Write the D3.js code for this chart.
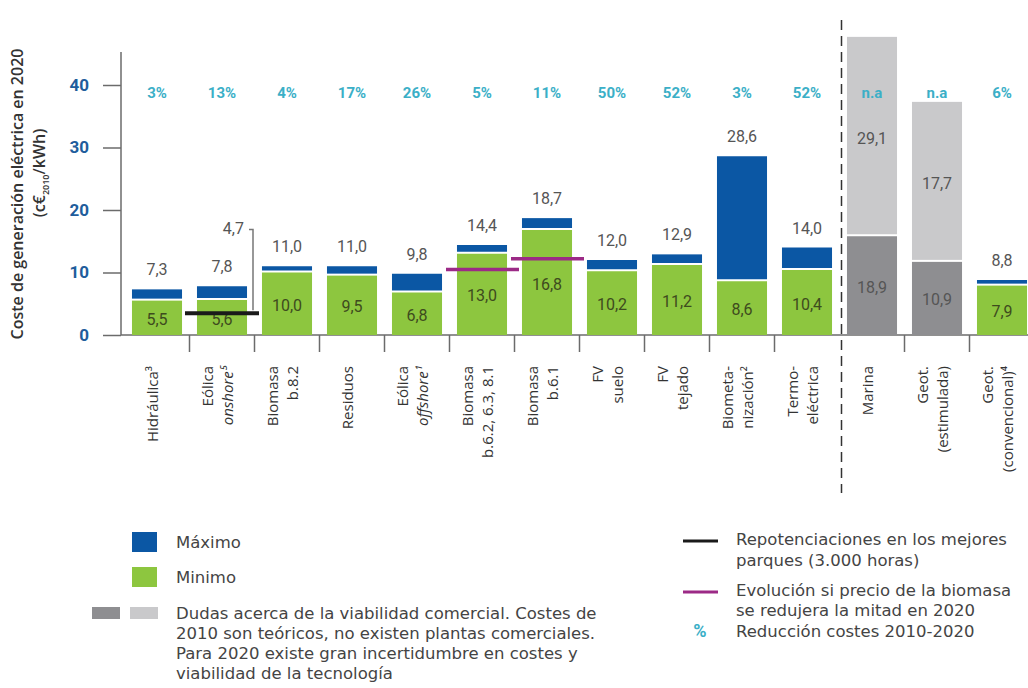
<!DOCTYPE html>
<html>
<head>
<meta charset="utf-8">
<script src="https://cdn.jsdelivr.net/npm/d3@7"></script>
<style>
  body { margin: 0; background: #fff; }
  text { font-family: Roboto, "DejaVu Sans", sans-serif; }
  .xlab, .ytitle { font-family: "Open Sans", "Noto Sans", sans-serif; }
  .leg { font-family: "DejaVu Sans", sans-serif; }
</style>
</head>
<body>
<script>
var svgWidth = 1028;
var svgHeight = 688;

// categories, each as the lines of its rotated label
var labelLines = [
  ["Hidráulica³"],
  ["Eólica", "onshore⁵"],
  ["Biomasa", "b.8.2"],
  ["Residuos"],
  ["Eólica", "offshore¹"],
  ["Biomasa", "b.6.2, 6.3, 8.1"],
  ["Biomasa", "b.6.1"],
  ["FV", "suelo"],
  ["FV", "tejado"],
  ["Biometa-", "nización²"],
  ["Termo-", "eléctrica"],
  ["Marina"],
  ["Geot.", "(estimulada)"],
  ["Geot.", "(convencional)⁴"]
];
var italicLines = ["onshore⁵", "offshore¹"];

// 2020 cost, c€2010/kWh
var minVals = [5.5, 5.6, 10.0, 9.5, 6.8, 13.0, 16.8, 10.2, 11.2, 8.6, 10.4, null, null, 7.9];
var maxVals = [7.3, 7.8, 11.0, 11.0, 9.8, 14.4, 18.7, 12.0, 12.9, 28.6, 14.0, null, null, 8.8];
var reduction = ["3%", "13%", "4%", "17%", "26%", "5%", "11%", "50%", "52%", "3%", "52%", "n.a", "n.a", "6%"];

// uncertain technologies (grey bars), as drawn in the picture
var greyCats = [11, 12];
var greyLow = [15.8, 11.7];
var greyHigh = [47.7, 37.3];
var greyLowLabels = ["18,9", "10,9"];
var greyHighLabels = ["29,1", "17,7"];

// repowering (black) and biomass half price (magenta) lines
var repowerCat = 1, repowerVal = 3.5, repowerBracketTop = 16.9, repowerLabel = "4,7";
var biomassCats = [5, 6];
var biomassVals = [10.5, 12.2];

var yTicks = [0, 10, 20, 30, 40];

var blue = "#0b57a4", green = "#8dc63f", darkGrey = "#8e8e91", lightGrey = "#c9c9cb";
var teal = "#3bafc7", axisCol = "#6b6b6b", valCol = "#555";

var fmt = function(v) { return v.toFixed(1).replace(".", ","); };

var svg = d3.select("body")
  .append("svg")
  .attr("width", svgWidth)
  .attr("height", svgHeight);

var x = d3.scaleBand()
  .domain(d3.range(labelLines.length))
  .range([124.5, 1034.5])
  .paddingInner(0.23)
  .paddingOuter(0.115);

var y = d3.scaleLinear()
  .domain([0, 40])
  .range([335, 85]);

var step = x.step();
var bw = x.bandwidth();
var cx = i => x(i) + bw / 2;

// y axis
var leftAxis = d3.axisLeft(y).tickValues(yTicks).tickSize(18).tickPadding(14);
var yAxisG = svg.append("g")
  .attr("transform", "translate(121,0)")
  .call(leftAxis);
yAxisG.select(".domain").remove();
yAxisG.selectAll(".tick line").attr("stroke", axisCol).attr("stroke-width", 1.5);
yAxisG.selectAll(".tick text")
  .attr("fill", "#1f5d9c")
  .style("font-size", "17px")
  .style("font-weight", "bold");
svg.append("line")
  .attr("x1", 121).attr("x2", 121)
  .attr("y1", y(45.3)).attr("y2", y(0))
  .attr("stroke", axisCol).attr("stroke-width", 1.5);

// y title
svg.append("text")
  .attr("class", "ytitle")
  .attr("transform", "translate(23,194) rotate(-90)")
  .attr("text-anchor", "middle")
  .attr("fill", "#333")
  .style("font-size", "16px")
  .style("font-weight", 600)
  .text("Coste de generación eléctrica en 2020");
var yTitle2 = svg.append("text")
  .attr("class", "ytitle")
  .attr("transform", "translate(45,173) rotate(-90)")
  .attr("text-anchor", "middle")
  .attr("fill", "#333")
  .style("font-size", "16px")
  .style("font-weight", 600);
yTitle2.append("tspan").text("(c€");
yTitle2.append("tspan").attr("dy", 4).style("font-size", "9px").text("2010");
yTitle2.append("tspan").attr("dy", -4).text("/kWh)");

// bottom axis line and slot separators
svg.append("line")
  .attr("x1", 121).attr("x2", svgWidth)
  .attr("y1", y(0)).attr("y2", y(0))
  .attr("stroke", axisCol).attr("stroke-width", 1.5);

var sepIdx = d3.range(1, labelLines.length).filter(i => i !== 11);
svg.selectAll(".sep")
  .data(sepIdx)
  .join("line")
  .attr("x1", i => x(i) - (step - bw) / 2)
  .attr("x2", i => x(i) - (step - bw) / 2)
  .attr("y1", y(0)).attr("y2", y(0) + 17)
  .attr("stroke", axisCol).attr("stroke-width", 1.5);

// dashed divider before the uncertain technologies
var divX = x(11) - (step - bw) / 2 + 2;
svg.append("line")
  .attr("x1", divX).attr("x2", divX)
  .attr("y1", 20).attr("y2", 493)
  .attr("stroke", "#333").attr("stroke-width", 1.5)
  .attr("stroke-dasharray", "10,6");

// stacked bars: green up to the minimum, blue from minimum to maximum
var idx = d3.range(labelLines.length).filter(i => minVals[i] != null);

svg.selectAll(".minBar")
  .data(idx)
  .join("rect")
  .attr("x", i => x(i))
  .attr("width", bw)
  .attr("y", i => y(minVals[i]))
  .attr("height", i => y(0) - y(minVals[i]))
  .attr("fill", green);

svg.selectAll(".maxBar")
  .data(idx)
  .join("rect")
  .attr("x", i => x(i))
  .attr("width", bw)
  .attr("y", i => y(maxVals[i]))
  .attr("height", i => Math.max(1, y(minVals[i]) - y(maxVals[i]) - 2))
  .attr("fill", blue);

svg.selectAll(".minLab")
  .data(idx)
  .join("text")
  .attr("x", cx)
  .attr("y", i => (y(0) + y(minVals[i])) / 2 + 7)
  .attr("text-anchor", "middle")
  .attr("fill", "#3e4b1e")
  .style("font-size", "16px")
  .text(i => fmt(minVals[i]));

svg.selectAll(".maxLab")
  .data(idx)
  .join("text")
  .attr("x", cx)
  .attr("y", i => y(maxVals[i]) - 14)
  .attr("text-anchor", "middle")
  .attr("fill", valCol)
  .style("font-size", "16px")
  .text(i => fmt(maxVals[i]));

// grey bars
greyCats.forEach(function(c, k) {
  svg.append("rect")
    .attr("x", x(c)).attr("width", bw)
    .attr("y", y(greyLow[k])).attr("height", y(0) - y(greyLow[k]))
    .attr("fill", darkGrey);
  svg.append("rect")
    .attr("x", x(c)).attr("width", bw)
    .attr("y", y(greyHigh[k])).attr("height", y(greyLow[k]) - y(greyHigh[k]) - 2)
    .attr("fill", lightGrey);
  svg.append("text")
    .attr("x", cx(c)).attr("y", (y(0) + y(greyLow[k])) / 2 + 7)
    .attr("text-anchor", "middle").attr("fill", valCol)
    .style("font-size", "16px")
    .text(greyLowLabels[k]);
  svg.append("text")
    .attr("x", cx(c)).attr("y", (y(greyLow[k]) + y(greyHigh[k])) / 2 + 7)
    .attr("text-anchor", "middle").attr("fill", valCol)
    .style("font-size", "16px")
    .text(greyHighLabels[k]);
});

// cost reduction labels
svg.selectAll(".red")
  .data(reduction)
  .join("text")
  .attr("x", (d, i) => cx(i))
  .attr("y", 98)
  .attr("text-anchor", "middle")
  .attr("fill", teal)
  .style("font-size", "15px")
  .style("font-weight", "bold")
  .text(d => d);

// repowering line and its bracket
svg.append("line")
  .attr("x1", cx(repowerCat) - 37).attr("x2", cx(repowerCat) + 37)
  .attr("y1", y(repowerVal)).attr("y2", y(repowerVal))
  .attr("stroke", "#1a1a1a").attr("stroke-width", 4);
var bx = cx(repowerCat) + 31;
svg.append("path")
  .attr("d", "M" + (bx - 4) + "," + y(repowerBracketTop) + "H" + bx + "V" + (y(repowerVal) - 3))
  .attr("fill", "none").attr("stroke", "#777").attr("stroke-width", 1.5);
svg.append("text")
  .attr("x", bx - 9).attr("y", y(repowerBracketTop) + 5)
  .attr("text-anchor", "end").attr("fill", valCol)
  .style("font-size", "16px")
  .text(repowerLabel);

// biomass half price lines
svg.selectAll(".bio")
  .data(biomassCats)
  .join("line")
  .attr("x1", (c) => cx(c) - 36).attr("x2", (c) => cx(c) + 37)
  .attr("y1", (c, k) => y(biomassVals[k])).attr("y2", (c, k) => y(biomassVals[k]))
  .attr("stroke", "#9c2a86").attr("stroke-width", 3.5);

// rotated category labels
labelLines.forEach(function(lines, i) {
  var n = lines.length;
  lines.forEach(function(line, j) {
    var lx = cx(i) - 4 + (j - (n - 1) / 2) * 20;
    svg.append("text")
      .attr("class", "xlab")
      .attr("transform", "translate(" + lx + ",366) rotate(-90)")
      .attr("text-anchor", "end")
      .attr("dy", "0.35em")
      .attr("fill", "#333")
      .style("font-size", "15px")
      .style("font-style", italicLines.includes(line) ? "italic" : "normal")
      .text(line);
  });
});

// legend, left block
var legL = svg.append("g");
legL.append("rect").attr("x", 132).attr("y", 532).attr("width", 25).attr("height", 20).attr("fill", blue);
legL.append("rect").attr("x", 132).attr("y", 567).attr("width", 25).attr("height", 20).attr("fill", green);
legL.append("rect").attr("x", 92).attr("y", 607).attr("width", 28).attr("height", 12).attr("fill", darkGrey);
legL.append("rect").attr("x", 130).attr("y", 607).attr("width", 28).attr("height", 12).attr("fill", lightGrey);

var legLeftTexts = [
  [548, "Máximo"],
  [583, "Minimo"],
  [619, "Dudas acerca de la viabilidad comercial. Costes de"],
  [639, "2010 son teóricos, no existen plantas comerciales."],
  [659, "Para 2020 existe gran incertidumbre en costes y"],
  [679, "viabilidad de la tecnología"]
];
legL.selectAll("text")
  .data(legLeftTexts)
  .join("text")
  .attr("class", "leg")
  .attr("x", 176)
  .attr("y", d => d[0])
  .attr("fill", "#444")
  .style("font-size", "16.5px")
  .text(d => d[1]);

// legend, right block
var legR = svg.append("g");
legR.append("line").attr("x1", 683).attr("x2", 718).attr("y1", 541).attr("y2", 541)
  .attr("stroke", "#1a1a1a").attr("stroke-width", 3);
legR.append("line").attr("x1", 683).attr("x2", 718).attr("y1", 592).attr("y2", 592)
  .attr("stroke", "#9c2a86").attr("stroke-width", 3);
legR.append("text").attr("x", 700).attr("y", 637).attr("text-anchor", "middle")
  .attr("fill", teal).style("font-size", "18px").style("font-weight", "bold").text("%");

var legRightTexts = [
  [545, "Repotenciaciones en los mejores"],
  [566, "parques (3.000 horas)"],
  [596, "Evolución si precio de la biomasa"],
  [616, "se redujera la mitad en 2020"],
  [637, "Reducción costes 2010-2020"]
];
legR.selectAll(".lt")
  .data(legRightTexts)
  .join("text")
  .attr("class", "leg")
  .attr("x", 736)
  .attr("y", d => d[0])
  .attr("fill", "#444")
  .style("font-size", "16.5px")
  .text(d => d[1]);
</script>
</body>
</html>
